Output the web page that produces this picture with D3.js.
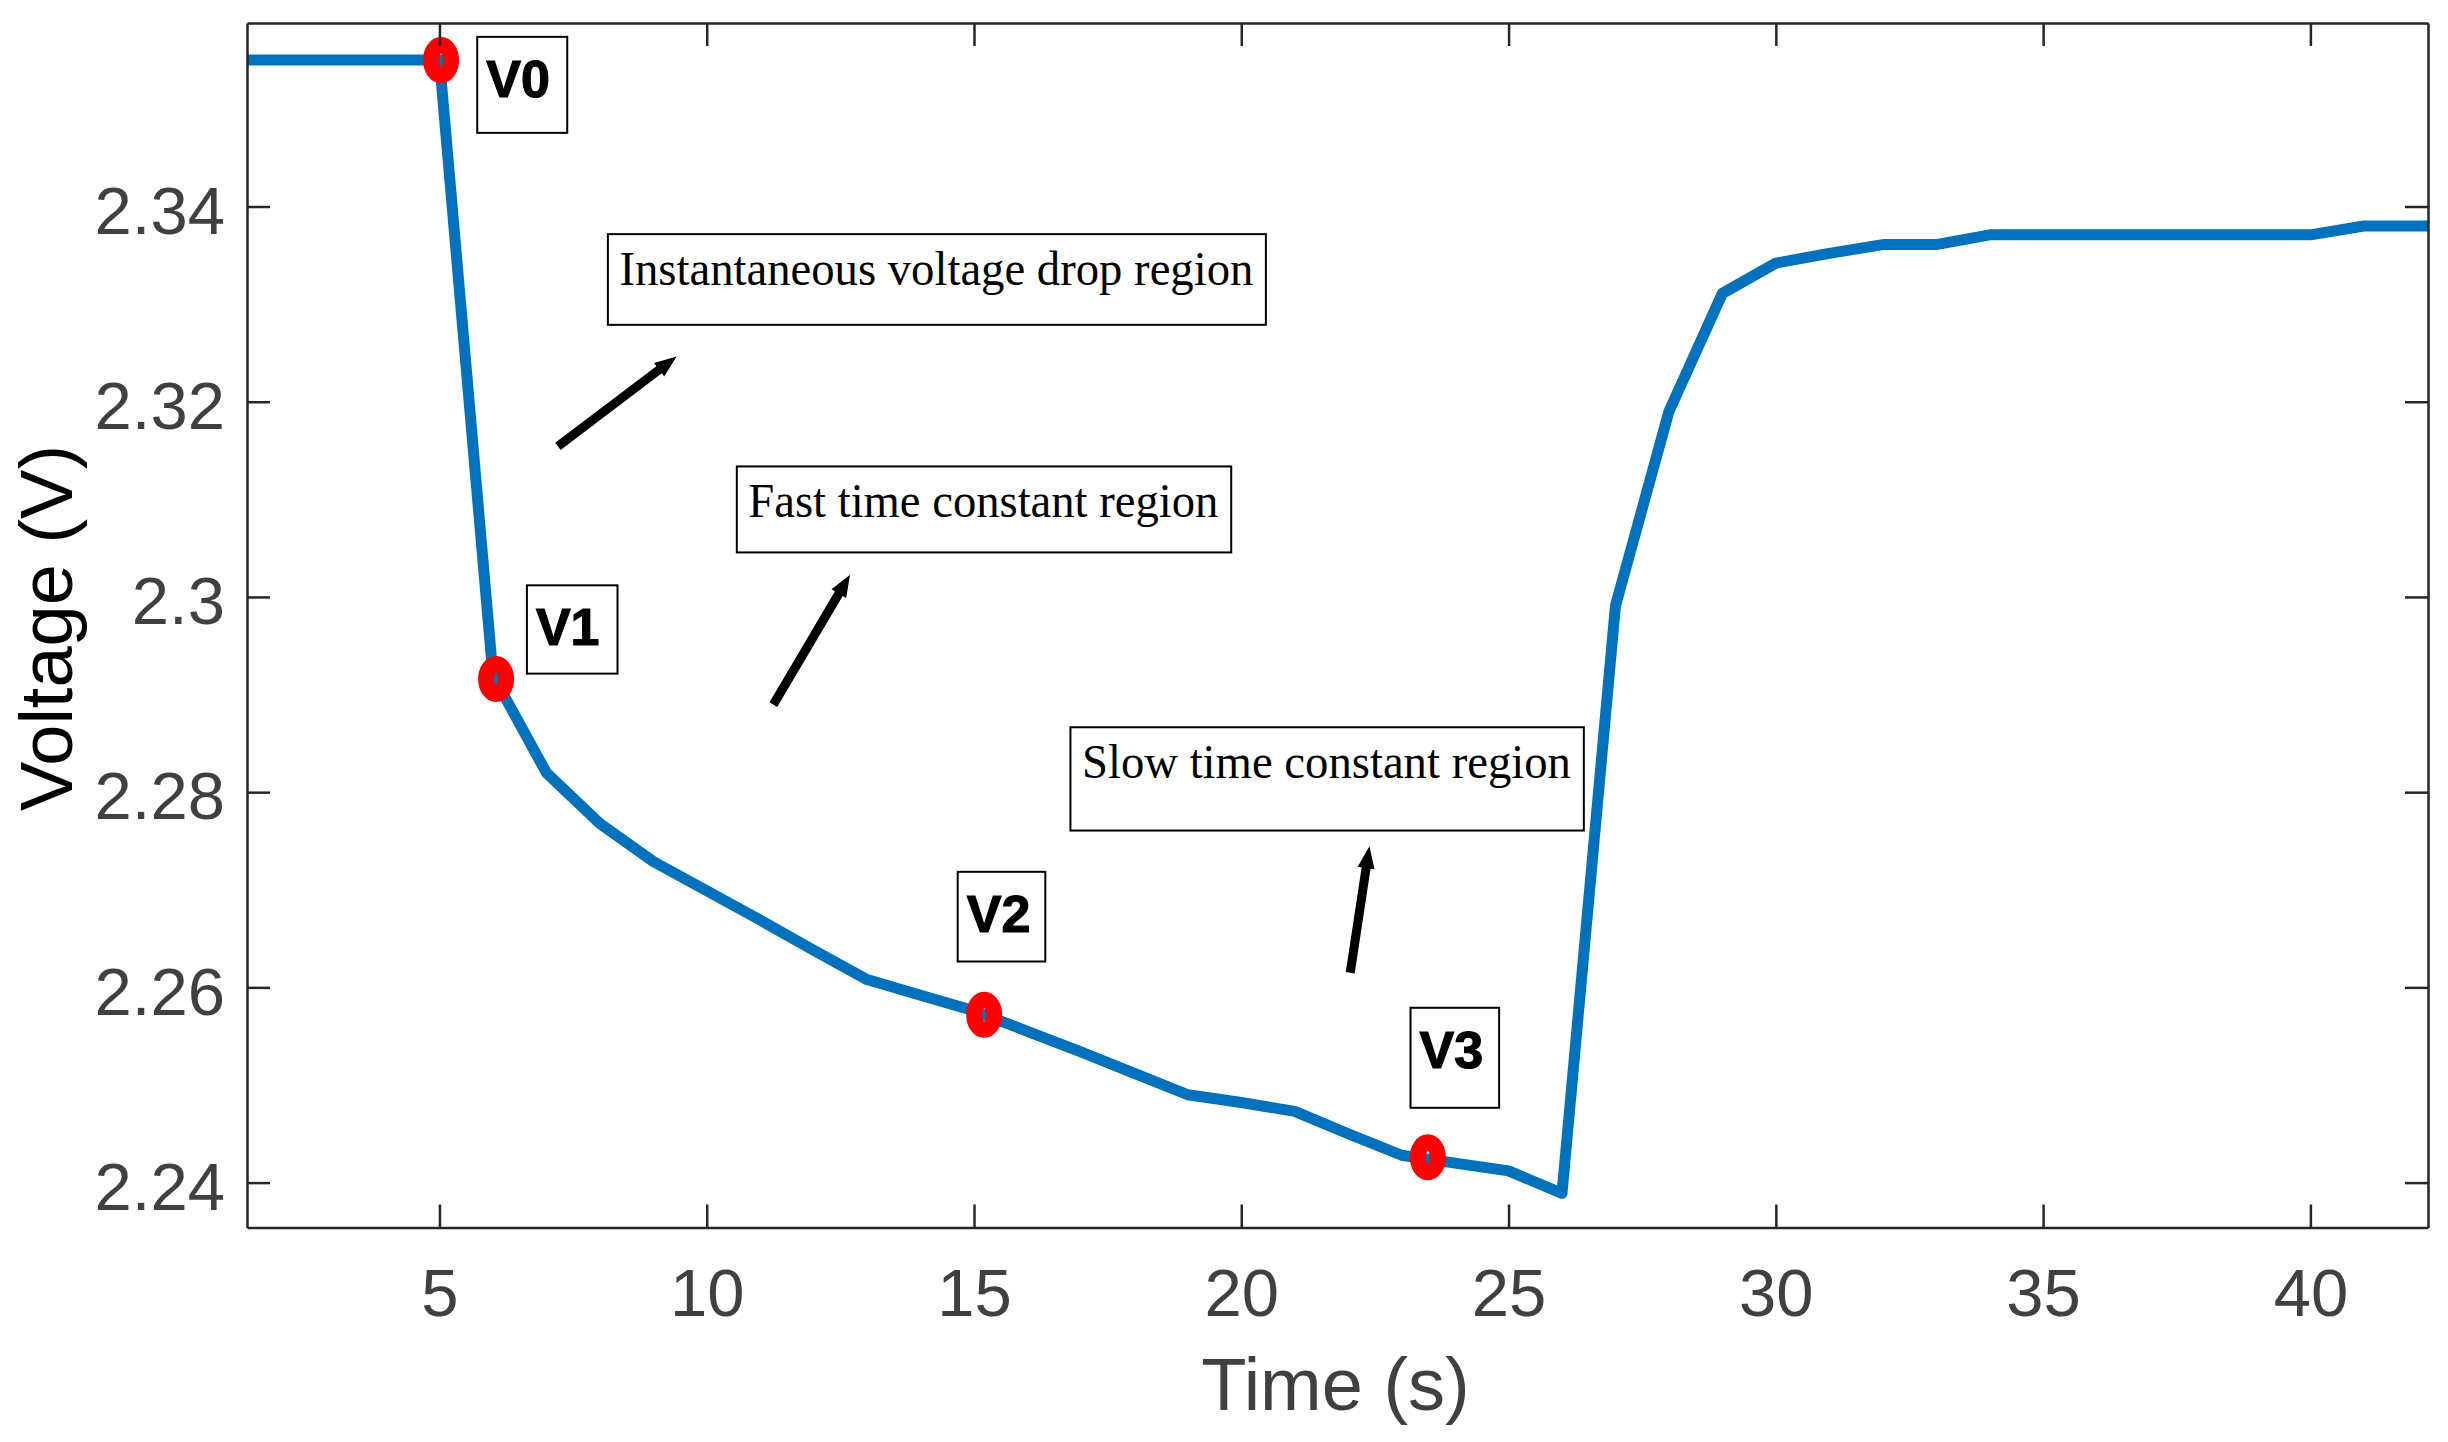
<!DOCTYPE html>
<html>
<head>
<meta charset="utf-8">
<script src="https://cdn.jsdelivr.net/npm/d3@7"></script>
<style>
  body { margin: 0; background: #fff; }
  svg { display: block; }
</style>
</head>
<body>
<svg id="chart"></svg>
<script>
// voltage response (1 s samples)
var time = [1,2,3,4,5,6,7,8,9,10,11,12,13,14,15,16,17,18,19,20,21,22,23,24,25,26,
            27,28,29,30,31,32,33,34,35,36,37,38,39,40,41,42,43]
var voltage = [2.355,2.355,2.355,2.355,2.355,2.292,2.282,2.2768,2.2729,2.2699,2.2669,2.2638,2.2608,
               2.2592,2.2576,2.2555,2.2534,2.2512,2.249,2.2482,2.2473,2.245,2.2428,2.242,2.2412,2.2389,
               2.2991,2.319,2.3311,2.3342,2.3352,2.3361,2.3361,2.3371,2.3371,2.3371,2.3371,2.3371,
               2.3371,2.3371,2.338,2.338,2.338]

// red points V0..V3
var markerX = [5.03, 6.06, 15.19, 23.49]
var markerY = [2.355, 2.2916, 2.2572, 2.2426]

// labels next to the points (top-left corner of box, data units)
var labelText = ["V0","V1","V2","V3"]
var labelX = [5.707, 6.636, 14.695, 23.166]
var labelY = [2.35738, 2.30119, 2.27184, 2.25791]

// region notes and their arrows
var noteText = ["Instantaneous voltage drop region", "Fast time constant region", "Slow time constant region"]
var noteX = [8.151, 10.563, 16.804]
var noteY = [2.33717, 2.31337, 2.28665]
var arrowFromX = [7.216, 11.247, 22.038]
var arrowFromY = [2.31542, 2.28897, 2.2615]
var arrowToX = [9.437, 12.681, 22.397]
var arrowToY = [2.32464, 2.30228, 2.27446]

var xTicks = [5,10,15,20,25,30,35,40]
var yTicks = [2.24,2.26,2.28,2.3,2.32,2.34]

var screen = {width:2448, height:1442}
var plot = {left:247, right:2428, top:23, bottom:1227.5}

// box sizes in px
var labelW = [90, 90.6, 87.6, 88.6], labelH = [96, 88.3, 89.7, 100]
var noteW = [658, 494.4, 513.4], noteH = [90.7, 86, 103.3], noteTextW = [634, 470, 489]

var svg = d3.select("#chart")
    .attr("width", screen.width)
    .attr("height", screen.height)

svg.append("rect").attr("width", screen.width).attr("height", screen.height).attr("fill", "#fff")

var xscale = d3.scaleLinear().domain([1.4, 42.2]).range([plot.left, plot.right])
var yscale = d3.scaleLinear().domain([2.2354, 2.3588]).range([plot.bottom, plot.top])

svg.append("clipPath").attr("id", "clip")
    .append("rect")
    .attr("x", plot.left).attr("y", plot.top)
    .attr("width", plot.right - plot.left).attr("height", plot.bottom - plot.top)

var points = time.map(function(t, i) { return {x: t, y: voltage[i]} })

var line = d3.line()
    .x(function(p) { return xscale(p.x) })
    .y(function(p) { return yscale(p.y) })

svg.append("path")
    .datum(points)
    .attr("clip-path", "url(#clip)")
    .attr("d", line)
    .attr("fill", "none")
    .attr("stroke", "#0072BD")
    .attr("stroke-width", 11)
    .attr("stroke-linejoin", "round")

svg.selectAll("ellipse.mk")
    .data(markerX)
    .enter()
    .append("ellipse")
    .attr("class", "mk")
    .attr("cx", function(d) { return xscale(d) })
    .attr("cy", function(d, i) { return yscale(markerY[i]) })
    .attr("rx", 10)
    .attr("ry", 15)
    .attr("fill", "none")
    .attr("stroke", "#ff0000")
    .attr("stroke-width", 16)

// axes, ticks pointing inward on all four sides
var tickFont = "'Liberation Sans', Arial, Helvetica, sans-serif"

var styleAxis = function(g) {
    g.select(".domain").attr("stroke", "#262626").attr("stroke-width", 2.5)
    g.selectAll(".tick line").attr("stroke", "#262626").attr("stroke-width", 2.5)
    g.selectAll(".tick text").attr("fill", "#404040").attr("font-size", 67).attr("font-family", tickFont)
}

var gx = svg.append("g")
    .attr("transform", "translate(0," + plot.bottom + ")")
    .call(d3.axisBottom(xscale).tickValues(xTicks).tickFormat(d3.format("d"))
          .tickSizeInner(-23).tickSizeOuter(0).tickPadding(41))
gx.call(styleAxis)

var gxTop = svg.append("g")
    .attr("transform", "translate(0," + plot.top + ")")
    .call(d3.axisTop(xscale).tickValues(xTicks).tickFormat("")
          .tickSizeInner(-23).tickSizeOuter(0))
gxTop.call(styleAxis)

var gy = svg.append("g")
    .attr("transform", "translate(" + plot.left + ",0)")
    .call(d3.axisLeft(yscale).tickValues(yTicks).tickFormat(function(d) { return String(+d.toFixed(2)) })
          .tickSizeInner(-23).tickSizeOuter(0).tickPadding(22))
gy.call(styleAxis)
gy.selectAll(".tick text").attr("dy", "0.4em")

var gyRight = svg.append("g")
    .attr("transform", "translate(" + plot.right + ",0)")
    .call(d3.axisRight(yscale).tickValues(yTicks).tickFormat("")
          .tickSizeInner(-23).tickSizeOuter(0))
gyRight.call(styleAxis)

svg.append("text")
    .attr("x", (plot.left + plot.right) / 2 - 2)
    .attr("y", 1410)
    .attr("text-anchor", "middle")
    .attr("font-family", tickFont)
    .attr("font-size", 74)
    .attr("fill", "#404040")
    .text("Time (s)")

svg.append("text")
    .attr("transform", "translate(72,628) rotate(-90)")
    .attr("text-anchor", "middle")
    .attr("font-family", tickFont)
    .attr("font-size", 74)
    .attr("fill", "#000")
    .text("Voltage (V)")

// point labels
var labels = svg.selectAll("g.lbl")
    .data(labelText)
    .enter()
    .append("g")
    .attr("class", "lbl")
    .attr("transform", function(d, i) { return "translate(" + xscale(labelX[i]) + "," + yscale(labelY[i]) + ")" })

labels.append("rect")
    .attr("width", function(d, i) { return labelW[i] })
    .attr("height", function(d, i) { return labelH[i] })
    .attr("fill", "#fff")
    .attr("stroke", "#000")
    .attr("stroke-width", 2)

labels.append("text")
    .attr("x", 9)
    .attr("y", 60)
    .attr("font-family", tickFont)
    .attr("font-weight", "bold")
    .attr("font-size", 52)
    .attr("fill", "#000")
    .attr("stroke", "#000")
    .attr("stroke-width", 1.2)
    .text(function(d) { return d })

// region notes
var notes = svg.selectAll("g.note")
    .data(noteText)
    .enter()
    .append("g")
    .attr("class", "note")
    .attr("transform", function(d, i) { return "translate(" + xscale(noteX[i]) + "," + yscale(noteY[i]) + ")" })

notes.append("rect")
    .attr("width", function(d, i) { return noteW[i] })
    .attr("height", function(d, i) { return noteH[i] })
    .attr("fill", "#fff")
    .attr("stroke", "#000")
    .attr("stroke-width", 2)

notes.append("text")
    .attr("x", 11.5)
    .attr("y", 50.5)
    .attr("font-family", "'Liberation Serif', 'Times New Roman', serif")
    .attr("font-size", 48)
    .attr("fill", "#000")
    .attr("textLength", function(d, i) { return noteTextW[i] })
    .attr("lengthAdjust", "spacingAndGlyphs")
    .text(function(d) { return d })

// arrows: shaft + triangular head
var shaftW = 9, headL = 22, headW = 17
svg.selectAll("path.arrow")
    .data(arrowFromX)
    .enter()
    .append("path")
    .attr("class", "arrow")
    .attr("fill", "#000")
    .attr("d", function(d, i) {
        var x0 = xscale(d), y0 = yscale(arrowFromY[i])
        var x1 = xscale(arrowToX[i]), y1 = yscale(arrowToY[i])
        var len = Math.hypot(x1 - x0, y1 - y0)
        var ux = (x1 - x0) / len, uy = (y1 - y0) / len
        var nx = -uy, ny = ux
        var bx = x1 - ux * headL, by = y1 - uy * headL
        var pts = [
            [x0 + nx * shaftW / 2, y0 + ny * shaftW / 2],
            [bx + nx * shaftW / 2, by + ny * shaftW / 2],
            [bx + nx * headW / 2, by + ny * headW / 2],
            [x1, y1],
            [bx - nx * headW / 2, by - ny * headW / 2],
            [bx - nx * shaftW / 2, by - ny * shaftW / 2],
            [x0 - nx * shaftW / 2, y0 - ny * shaftW / 2]
        ]
        return "M" + pts.map(function(p) { return p[0] + "," + p[1] }).join("L") + "Z"
    })
</script>
</body>
</html>
